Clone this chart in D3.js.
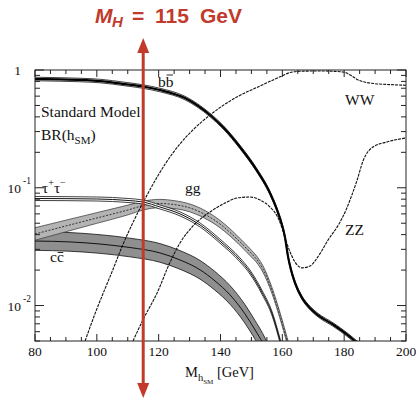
<!DOCTYPE html>
<html>
<head>
<meta charset="utf-8">
<script src="https://cdn.jsdelivr.net/npm/d3@7"></script>
<style>
  body { margin: 0; background: #fff; }
  text { font-family: "Liberation Serif", "Times New Roman", serif; fill: #111; }
</style>
</head>
<body>
<svg id="chart" width="416" height="399"></svg>
<script>
// Higgs mass in GeV, branching ratios
const xTickLabels = [80, 100, 120, 140, 160, 180, 200]

const bbMass = [80, 88.1, 101, 109.1, 114.9, 120.4, 128.5, 136.6, 140.8, 146.3, 151.5, 156, 158.3, 159.9, 160.9, 161.8, 162.8, 164.1, 166.4, 169, 171.5, 176.4, 181.2, 183.5, 185.8]
const bbBR   = [0.839, 0.831, 0.806, 0.760, 0.724, 0.676, 0.578, 0.415, 0.328, 0.222, 0.144, 0.0903, 0.0648, 0.0483, 0.0375, 0.0264, 0.0201, 0.0156, 0.0116, 0.0095, 0.0083, 0.0069, 0.0056, 0.0050, 0.0045]
const bbErr = 0.035

const tauMass = [80, 100, 110.1, 114.9, 120.4, 126.9, 133.4, 139.8, 146.3, 149.5, 153.4, 156.7, 159.2, 160.5]
const tauBR   = [0.0811, 0.0803, 0.078, 0.0757, 0.0687, 0.060, 0.0483, 0.0353, 0.0244, 0.0193, 0.0130, 0.0085, 0.0051, 0.0038]
const tauErr = 0.04

const ggMass = [80, 90, 100, 110.1, 114.9, 120.4, 125.3, 130.1, 133.4, 139.8, 146.3, 149.5, 152.1, 153.7, 156.7, 159.2, 161.5, 163.1]
const ggBR   = [0.0405, 0.0474, 0.0554, 0.0648, 0.0705, 0.0735, 0.0718, 0.0674, 0.0623, 0.0493, 0.0347, 0.0285, 0.0239, 0.0205, 0.0133, 0.0083, 0.0051, 0.0036]
const ggErr  = [0.13, 0.12, 0.11, 0.10, 0.09, 0.085, 0.08, 0.08, 0.08, 0.075, 0.07, 0.07, 0.065, 0.065, 0.06, 0.06, 0.06, 0.06]

const ccMass = [80, 91.3, 101, 110.7, 120.4, 126.9, 133.4, 138.2, 143.1, 147.9, 151.2, 153.7, 156]
const ccBR   = [0.0353, 0.0347, 0.0333, 0.0311, 0.0280, 0.0244, 0.0201, 0.0162, 0.0123, 0.0085, 0.0062, 0.0048, 0.0036]
const ccErr = 0.2

const wwMass = [96.2, 99.4, 102.6, 104.9, 108.1, 112.4, 116.6, 122.1, 126.9, 131.1, 136.6, 145.3, 152.8, 160.2, 162.5, 165.7, 172.2, 179.6, 182.5, 184.5, 189, 194.8, 200]
const wwBR   = [0.0050, 0.0085, 0.0138, 0.0193, 0.0314, 0.0554, 0.0903, 0.159, 0.236, 0.310, 0.415, 0.590, 0.731, 0.898, 0.952, 0.975, 0.981, 0.962, 0.889, 0.823, 0.771, 0.752, 0.742]

const zzMass = [111.7, 114.9, 119.5, 123.7, 126.9, 131.1, 136.6, 141.5, 145.3, 149.5, 152.8, 156, 158.3, 159.9, 160.9, 162.5, 164.1, 166.4, 169, 171.5, 174.8, 178.7, 180.6, 182.5, 184.2, 186.1, 189.3, 193.9, 200]
const zzBR   = [0.0050, 0.00755, 0.0128, 0.0234, 0.0340, 0.0474, 0.0623, 0.0743, 0.0819, 0.0835, 0.0788, 0.0687, 0.0576, 0.0456, 0.0375, 0.0285, 0.0234, 0.0209, 0.0217, 0.0259, 0.0360, 0.0513, 0.0648, 0.0869, 0.1165, 0.169, 0.222, 0.245, 0.265]

const markedMass = 115
const red = '#c13a2b'

const svg = d3.select('#chart')
const x = d3.scaleLinear().domain([80, 200]).range([35, 406])
const y = d3.scaleLog().domain([0.005, 1]).range([341, 70])

svg.append('clipPath').attr('id', 'plot-clip')
    .append('rect')
    .attr('x', 35).attr('y', 70).attr('width', 371).attr('height', 271)

const plot = svg.append('g').attr('clip-path', 'url(#plot-clip)')

function rows(mass, br, err) {
    return mass.map((m, i) => ({ m: m, v: br[i], e: Array.isArray(err) ? err[i] : err }))
}

const line = d3.line().curve(d3.curveMonotoneX)
    .x(d => x(d.m)).y(d => y(d.v))
const lo = d3.line().curve(d3.curveMonotoneX)
    .x(d => x(d.m)).y(d => y(d.v / (1 + d.e)))
const hi = d3.line().curve(d3.curveMonotoneX)
    .x(d => x(d.m)).y(d => y(d.v * (1 + d.e)))
const area = d3.area().curve(d3.curveMonotoneX)
    .x(d => x(d.m)).y0(d => y(d.v / (1 + d.e))).y1(d => y(d.v * (1 + d.e)))

function band(data, fill, edge, mid, midWidth, midDash) {
    plot.append('path').datum(data).attr('d', area).attr('fill', fill)
    plot.append('path').datum(data).attr('d', lo).attr('fill', 'none').attr('stroke', edge).attr('stroke-width', 0.8)
    plot.append('path').datum(data).attr('d', hi).attr('fill', 'none').attr('stroke', edge).attr('stroke-width', 0.8)
    plot.append('path').datum(data).attr('d', line).attr('fill', 'none')
        .attr('stroke', mid).attr('stroke-width', midWidth)
        .attr('stroke-dasharray', midDash || null)
}

// bands
band(rows(ccMass, ccBR, ccErr), '#8f8f8f', '#111', '#111', 1)
band(rows(ggMass, ggBR, ggErr), '#b4b4b4', '#444', '#222', 0.9, '2,1.5')
band(rows(tauMass, tauBR, tauErr), '#fff', '#111', '#111', 1)
band(rows(bbMass, bbBR, bbErr), '#fff', '#111', '#000', 2.2)

// WW and ZZ
plot.append('path').datum(rows(wwMass, wwBR, 0)).attr('d', line)
    .attr('fill', 'none').attr('stroke', '#111').attr('stroke-width', 1.1).attr('stroke-dasharray', '3,1')
plot.append('path').datum(rows(zzMass, zzBR, 0)).attr('d', line)
    .attr('fill', 'none').attr('stroke', '#111').attr('stroke-width', 1.1).attr('stroke-dasharray', '3,1')

// frame and ticks
const frame = svg.append('g').attr('stroke', '#222').attr('stroke-width', 1)
frame.append('rect').attr('x', 35).attr('y', 70).attr('width', 371).attr('height', 271).attr('fill', 'none')

d3.range(80, 201, 5).forEach(m => {
    const len = m % 20 === 0 ? 7 : 4
    frame.append('line').attr('x1', x(m)).attr('x2', x(m)).attr('y1', 341).attr('y2', 341 - len)
    frame.append('line').attr('x1', x(m)).attr('x2', x(m)).attr('y1', 70).attr('y2', 70 + len)
})
y.ticks().forEach(v => {
    const major = Math.abs(Math.log10(v) - Math.round(Math.log10(v))) < 1e-6
    const len = major ? 9 : 5
    frame.append('line').attr('y1', y(v)).attr('y2', y(v)).attr('x1', 35).attr('x2', 35 + len)
    frame.append('line').attr('y1', y(v)).attr('y2', y(v)).attr('x1', 406).attr('x2', 406 - len)
})

svg.selectAll('text.xtick').data(xTickLabels).enter().append('text')
    .attr('class', 'xtick')
    .attr('x', d => x(d)).attr('y', 356)
    .attr('text-anchor', 'middle').attr('font-size', 13.5)
    .text(d => d)

svg.append('text').attr('x', 21).attr('y', y(1) + 5).attr('text-anchor', 'end').attr('font-size', 13.5).text('1')
;[0.1, 0.01].forEach(v => {
    const exp = Math.round(Math.log10(v))
    svg.append('text').attr('x', 21).attr('y', y(v) + 5).attr('text-anchor', 'end').attr('font-size', 13.5).text('10')
    svg.append('text').attr('x', 23).attr('y', y(v) - 4).attr('font-size', 9.5).text('-' + Math.abs(exp))
})

// axis title
const xt = svg.append('text').attr('x', 185).attr('y', 377).attr('font-size', 14.5)
xt.append('tspan').text('M')
xt.append('tspan').attr('font-size', 10.5).attr('dy', 4).text('h')
xt.append('tspan').attr('font-size', 7).attr('dy', 3).text('SM')
xt.append('tspan').attr('dy', -7).text(' [GeV]')

// labels
svg.append('text').attr('x', 41).attr('y', 117).attr('font-size', 15.5).text('Standard Model')
const br = svg.append('text').attr('x', 41).attr('y', 140).attr('font-size', 15.5)
br.append('tspan').text('BR(h')
br.append('tspan').attr('font-size', 11).attr('dy', 4).text('SM')
br.append('tspan').attr('dy', -4).text(')')

const tau = svg.append('text').attr('x', 42).attr('y', 193).attr('font-size', 15.5)
tau.append('tspan').text('τ')
tau.append('tspan').attr('font-size', 10).attr('dy', -7).text('+')
tau.append('tspan').attr('dy', 7).text('τ')
tau.append('tspan').attr('font-size', 10).attr('dy', -7).text('−')

svg.append('text').attr('x', 185).attr('y', 193).attr('font-size', 15.5).text('gg')

// label with a bar over its second letter
function barred(text, px, py, barUp) {
    const t = svg.append('text').attr('x', px).attr('y', py).attr('font-size', 15.5).text(text)
    const ext = t.node().getExtentOfChar(1)
    svg.append('line')
        .attr('x1', ext.x + 0.8).attr('x2', ext.x + ext.width - 0.5)
        .attr('y1', py - barUp).attr('y2', py - barUp)
        .attr('stroke', '#111').attr('stroke-width', 0.9)
}
barred('cc', 50, 262, 9.5)
barred('bb', 158, 87, 12)

svg.append('text').attr('x', 345).attr('y', 105).attr('font-size', 15.5).text('WW')
svg.append('text').attr('x', 345).attr('y', 235).attr('font-size', 15.5).text('ZZ')

// red marker at 115 GeV
const mx = x(markedMass)
svg.append('line').attr('x1', mx).attr('x2', mx).attr('y1', 50).attr('y2', 387)
    .attr('stroke', red).attr('stroke-width', 3)
svg.append('path').attr('d', `M${mx},38 L${mx - 6},53 L${mx + 6},53 Z`).attr('fill', red)
svg.append('path').attr('d', `M${mx},398 L${mx - 6},383 L${mx + 6},383 Z`).attr('fill', red)

const title = svg.append('text').attr('y', 23)
    .style('font-family', '"Liberation Sans", Arial, sans-serif').style('fill', red)
    .attr('font-size', 21).attr('font-weight', 'bold')
title.append('tspan').attr('x', 95).attr('font-style', 'italic').text('M')
title.append('tspan').attr('x', 112).attr('dy', 4).attr('font-style', 'italic').attr('font-size', 15).text('H')
title.append('tspan').attr('x', 132).attr('dy', -4).text('=')
title.append('tspan').attr('x', 155).text('115')
title.append('tspan').attr('x', 200).text('GeV')
</script>
</body>
</html>
